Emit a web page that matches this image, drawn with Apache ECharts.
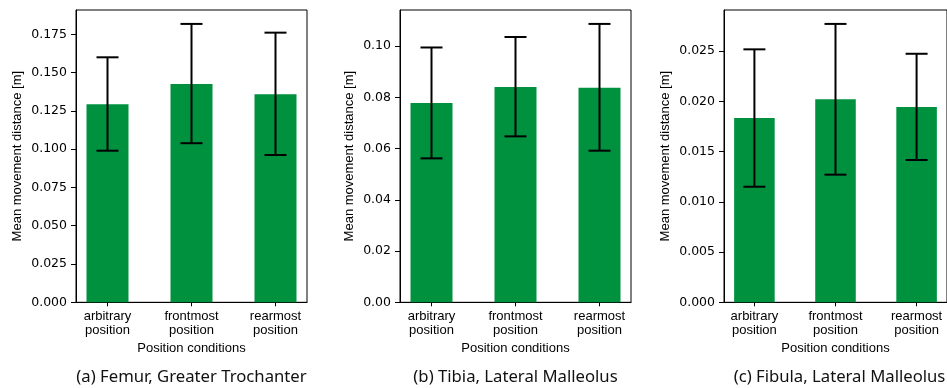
<!DOCTYPE html>
<html>
<head>
    <meta charset="utf-8">
    <title>Mean movement distance</title>
    <script src="https://cdn.jsdelivr.net/npm/echarts@6/dist/echarts.min.js"></script>
    <style type="text/css">
        * { margin: 0; padding: 0; }
        #main { width: 947px; height: 388px; background: #fff; }
    </style>
</head>
<body>
<div id="main"></div>
<script type="text/javascript">
    // data
    var categories = ['arbitrary\nposition', 'frontmost\nposition', 'rearmost\nposition'];

    var femurMean = [0.1293, 0.1426, 0.1359];
    var femurLow = [0.0990, 0.1039, 0.0962];
    var femurHigh = [0.1600, 0.1818, 0.1761];

    var tibiaMean = [0.0778, 0.0841, 0.0838];
    var tibiaLow = [0.0562, 0.0648, 0.0592];
    var tibiaHigh = [0.0995, 0.1036, 0.1087];

    var fibulaMean = [0.01833, 0.0202, 0.01943];
    var fibulaLow = [0.0115, 0.0127, 0.01416];
    var fibulaHigh = [0.02517, 0.0277, 0.02473];

    var femurTicks = [0, 0.025, 0.05, 0.075, 0.1, 0.125, 0.15, 0.175];
    var tibiaTicks = [0, 0.02, 0.04, 0.06, 0.08, 0.1];
    var fibulaTicks = [0, 0.005, 0.01, 0.015, 0.02, 0.025];

    var captions = ['(a) Femur, Greater Trochanter', '(b) Tibia, Lateral Malleolus', '(c) Fibula, Lateral Malleolus'];

    var myChart = echarts.init(document.getElementById('main'));

    var panels = [
        {left: 76, mean: femurMean, low: femurLow, high: femurHigh, ticks: femurTicks, dec: 3, nameGap: 52},
        {left: 400, mean: tibiaMean, low: tibiaLow, high: tibiaHigh, ticks: tibiaTicks, dec: 2, nameGap: 44},
        {left: 724, mean: fibulaMean, low: fibulaLow, high: fibulaHigh, ticks: fibulaTicks, dec: 3, nameGap: 52}
    ];
    var plotW = 231;
    var green = '#00913f';

    var grids = [], xAxes = [], yAxes = [], series = [], graphics = [];

    panels.forEach(function (p, k) {
        // matplotlib style autoscale: 5% margin above the highest whisker
        var top = Math.max.apply(null, p.high) * 1.05;
        grids.push({
            left: p.left, top: 10, width: plotW, bottom: 85.7,
            show: true, borderColor: '#000', borderWidth: 1, backgroundColor: 'transparent'
        });
        xAxes.push({
            type: 'value', gridIndex: k, min: -0.375, max: 2.375,
            name: 'Position conditions', nameLocation: 'middle', nameGap: 39,
            nameTextStyle: {fontFamily: 'Liberation Sans', fontSize: 13, color: '#000'},
            axisLine: {show: true, onZero: false, lineStyle: {color: '#000', width: 1}},
            axisTick: {show: true, length: 4, customValues: [0, 1, 2], lineStyle: {color: '#000'}},
            axisLabel: {
                customValues: [0, 1, 2], margin: 7,
                fontFamily: 'Liberation Sans', fontSize: 13, lineHeight: 14, color: '#000',
                formatter: function (v) { return categories[Math.round(v)]; }
            },
            splitLine: {show: false}
        });
        yAxes.push({
            type: 'value', gridIndex: k, min: 0, max: top,
            name: 'Mean movement distance [m]', nameLocation: 'middle', nameGap: p.nameGap,
            nameTextStyle: {fontFamily: 'Liberation Sans', fontSize: 13, color: '#000'},
            axisLine: {show: true, onZero: false, lineStyle: {color: '#000', width: 1}},
            axisTick: {show: true, length: 5, customValues: p.ticks, lineStyle: {color: '#000'}},
            axisLabel: {
                customValues: p.ticks, margin: 9,
                fontFamily: 'DejaVu Sans', fontSize: 12.5, color: '#000',
                formatter: function (v) { return v.toFixed(p.dec); }
            },
            splitLine: {show: false}
        });

        var rows = p.mean.map(function (m, i) { return [i, m, p.low[i], p.high[i]]; });

        series.push({
            type: 'custom', xAxisIndex: k, yAxisIndex: k, data: rows,
            renderItem: function (params, api) {
                var i = api.value(0);
                var a = api.coord([i - 0.25, api.value(1)]);
                var b = api.coord([i + 0.25, 0]);
                return {
                    type: 'rect',
                    shape: {x: a[0], y: a[1], width: b[0] - a[0], height: b[1] - a[1]},
                    style: {fill: green}
                };
            }
        });
        series.push({
            type: 'custom', xAxisIndex: k, yAxisIndex: k, data: rows, z: 5,
            renderItem: function (params, api) {
                var i = api.value(0);
                var lo = api.coord([i, api.value(2)]);
                var hi = api.coord([i, api.value(3)]);
                var c = 11;
                var st = {stroke: '#000', lineWidth: 2};
                return {
                    type: 'group',
                    children: [
                        {type: 'line', shape: {x1: lo[0], y1: lo[1], x2: hi[0], y2: hi[1]}, style: st},
                        {type: 'line', shape: {x1: lo[0] - c, y1: lo[1], x2: lo[0] + c, y2: lo[1]}, style: st},
                        {type: 'line', shape: {x1: hi[0] - c, y1: hi[1], x2: hi[0] + c, y2: hi[1]}, style: st}
                    ]
                };
            }
        });

        graphics.push({
            type: 'text', x: p.left + plotW / 2, y: 377,
            style: {
                text: captions[k], align: 'center', verticalAlign: 'middle',
                font: '16.7px "Noto Sans"', fill: '#111'
            }
        });
    });

    var option = {
        animation: false,
        grid: grids,
        xAxis: xAxes,
        yAxis: yAxes,
        series: series,
        graphic: graphics
    };
    myChart.setOption(option);
</script>
</body>
</html>
